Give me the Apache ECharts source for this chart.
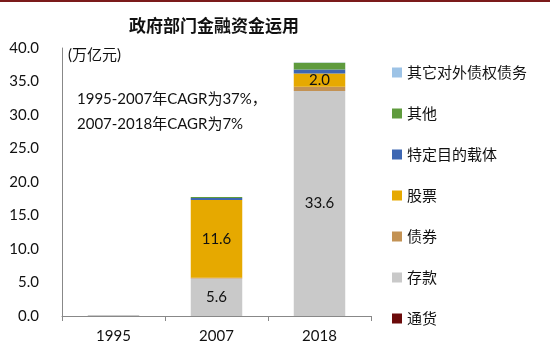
<!DOCTYPE html>
<html>
<head>
<meta charset="utf-8">
<script src="https://cdn.jsdelivr.net/npm/echarts@6/dist/echarts.min.js"></script>
<style>
  html, body { margin: 0; padding: 0; background: #fff; }
  #chart { width: 550px; height: 350px; }
</style>
</head>
<body>
<div id="chart"></div>
<script>
// 政府部门金融资金运用（万亿元）
const years = ['1995', '2007', '2018'];
const yTicks = [0, 5, 10, 15, 20, 25, 30, 35, 40];

const currency = [0, 0, 0];            // 通货
const deposits = [0.15, 5.6, 33.6];    // 存款
const bonds = [0, 0.1, 0.6];           // 债券
const stocks = [0, 11.6, 2.0];         // 股票
const spv = [0, 0.3, 0.6];             // 特定目的载体
const others = [0, 0.15, 1.0];         // 其他
const external = [0, 0, 0.05];         // 其它对外债权债务

const notes = ['(万亿元)', '1995-2007年CAGR为37%，', '2007-2018年CAGR为7%'];

const latin = 'Lato, "Noto Sans CJK SC", sans-serif';
const cjk = '"Noto Sans CJK SC", sans-serif';

const seriesDefs = [
  { name: '通货', data: currency, color: '#6B0A0A' },
  { name: '存款', data: deposits, color: '#C9C9C9', label: true },
  { name: '债券', data: bonds, color: '#C39254' },
  { name: '股票', data: stocks, color: '#E6A900', label: true },
  { name: '特定目的载体', data: spv, color: '#3D66B2' },
  { name: '其他', data: others, color: '#5F9B3D' },
  { name: '其它对外债权债务', data: external, color: '#9DC3E6' }
];

const chart = echarts.init(document.getElementById('chart'));

chart.setOption({
  animation: false,
  title: {
    text: '政府部门金融资金运用',
    left: 209,
    textAlign: 'center',
    top: 12,
    textStyle: { fontFamily: cjk, fontSize: 17, fontWeight: 'bold', color: '#111' }
  },
  legend: {
    orient: 'vertical',
    left: 387,
    top: 60,
    itemWidth: 10,
    itemHeight: 10,
    itemGap: 26,
    icon: 'rect',
    data: seriesDefs.map(s => s.name).reverse(),
    textStyle: { fontFamily: cjk, fontSize: 15, color: '#111' }
  },
  grid: { left: 62, right: 179, top: 48, bottom: 34 },
  xAxis: {
    type: 'category',
    data: years,
    axisLine: { lineStyle: { color: '#888', width: 1 } },
    axisTick: { show: true, length: 5, lineStyle: { color: '#888' } },
    axisLabel: { fontFamily: latin, fontSize: 15, color: '#111', margin: 13 }
  },
  yAxis: {
    type: 'value',
    min: yTicks[0],
    max: yTicks[yTicks.length - 1],
    interval: 5,
    axisLine: { show: true, lineStyle: { color: '#888', width: 1 } },
    axisTick: { show: false },
    splitLine: { show: false },
    axisLabel: {
      fontFamily: latin, fontSize: 15, color: '#111', margin: 23,
      formatter: v => v.toFixed(1)
    }
  },
  graphic: [
    { type: 'rect', shape: { x: 0, y: 0, width: 550, height: 2 }, style: { fill: '#7B1A1A' } },
    { type: 'text', left: 68, top: 48, style: { text: notes[0], font: '15px ' + latin, fill: '#111' } },
    { type: 'text', left: 77, top: 92, style: { text: notes[1], font: '15px ' + latin, fill: '#111' } },
    { type: 'text', left: 77, top: 117, style: { text: notes[2], font: '15px ' + latin, fill: '#111' } }
  ],
  series: seriesDefs.map(s => ({
    name: s.name,
    type: 'bar',
    stack: 'total',
    barWidth: '50%',
    data: s.data,
    itemStyle: { color: s.color },
    label: {
      show: !!s.label,
      position: 'inside',
      fontFamily: latin,
      fontSize: 15,
      color: '#111',
      formatter: p => (p.value >= 1.5 ? p.value.toFixed(1) : '')
    }
  }))
});
</script>
</body>
</html>
